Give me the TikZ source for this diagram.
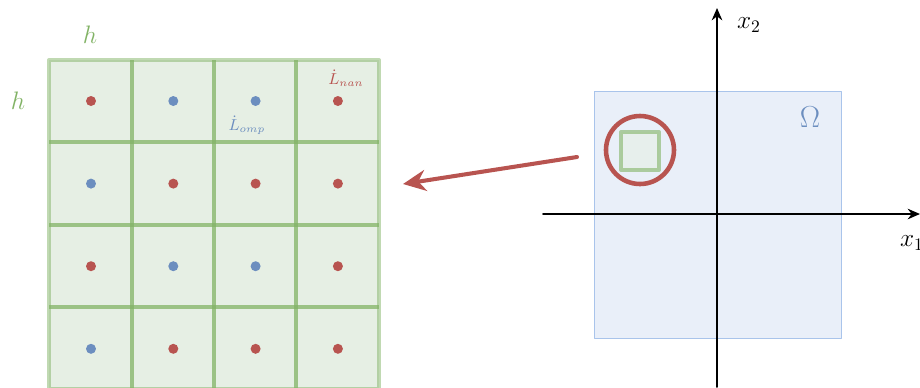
\documentclass[tikz,border=0pt]{standalone}
\usetikzlibrary{arrows.meta}
\definecolor{gline}{HTML}{82B366}
\definecolor{gfill}{HTML}{E6EFE4}
\definecolor{rdot}{HTML}{B85450}
\definecolor{bdot}{HTML}{6C8EBF}
\definecolor{ofill}{HTML}{E9EFF9}
\definecolor{oline}{HTML}{A9C4EB}
\tikzset{
  gridline/.style={gline,line width=2.3pt,opacity=0.75},
  pt/.style={circle,inner sep=0pt,minimum size=0.2cm},
  lbl/.style={inner sep=0pt},
  axis/.style={line width=1.1pt,-{Stealth[length=7pt,width=6pt]}},
}
\begin{document}
\begin{tikzpicture}[line cap=round,line join=round,>=stealth,x=0.02cm,y=-0.02cm]
				\useasboundingbox (0,0) rectangle (920,387);
				\clip (0,0) rectangle (920,387);
				% grid of cells
				\fill[gfill] (49,60) rectangle (379,389);
				\foreach \i in {132,214,296}
					\draw[gridline,line cap=butt] (\i,60) -- (\i,389);
				\foreach \j in {142,225,307}
					\draw[gridline,line cap=butt] (49,\j) -- (379,\j);
				\draw[gridline,opacity=0.5] (49,60) rectangle (379,389);
				% points
				\foreach \c [count=\k from 0] in {rdot,bdot,bdot,rdot,bdot,rdot,rdot,rdot,rdot,bdot,bdot,rdot,bdot,rdot,rdot,rdot}{
					\pgfmathtruncatemacro{\col}{mod(\k,4)}
					\pgfmathtruncatemacro{\row}{div(\k,4)}
					\node[pt,fill=\c] (p\k) at (91+82.3*\col,101+82.6*\row) {};
				}
				\node[lbl,text=gline] (hx) at (90,35) {\Large$h$};
				\node[lbl,text=gline] (hy) at (18,101) {\Large$h$};
				\node[lbl,text=bdot] (lomp) at (247,125) {\small$\dot{L}_{omp}$};
				\node[lbl,text=rdot] (lnan) at (346,78) {\small$\dot{L}_{nan}$};
				% domain
				\draw[oline,fill=ofill] (594,91) rectangle (841,338);
				\node[lbl,text=bdot] (om) at (810,117) {\LARGE$\Omega$};
				\draw[axis] (543,214) -- (920,214);
				\draw[axis] (717,387) -- (717,8);
				\node[lbl] (x1) at (912,243) {\Large$x_1$};
				\node[lbl] (x2) at (749,25) {\Large$x_2$};
				\draw[gline,line width=2.3pt,opacity=0.6,fill=gfill] (621,132) rectangle (659,170);
				\draw[rdot,line width=2.6pt] (640,150) circle (34);
				% zoom arrow
				\coordinate (a0) at (577,157);
				\coordinate (a1) at (403,184);
				\draw[rdot,line width=2.3pt,-{Stealth[length=13pt,width=12pt]}] (a0) -- (a1);
			\end{tikzpicture}
\end{document}
